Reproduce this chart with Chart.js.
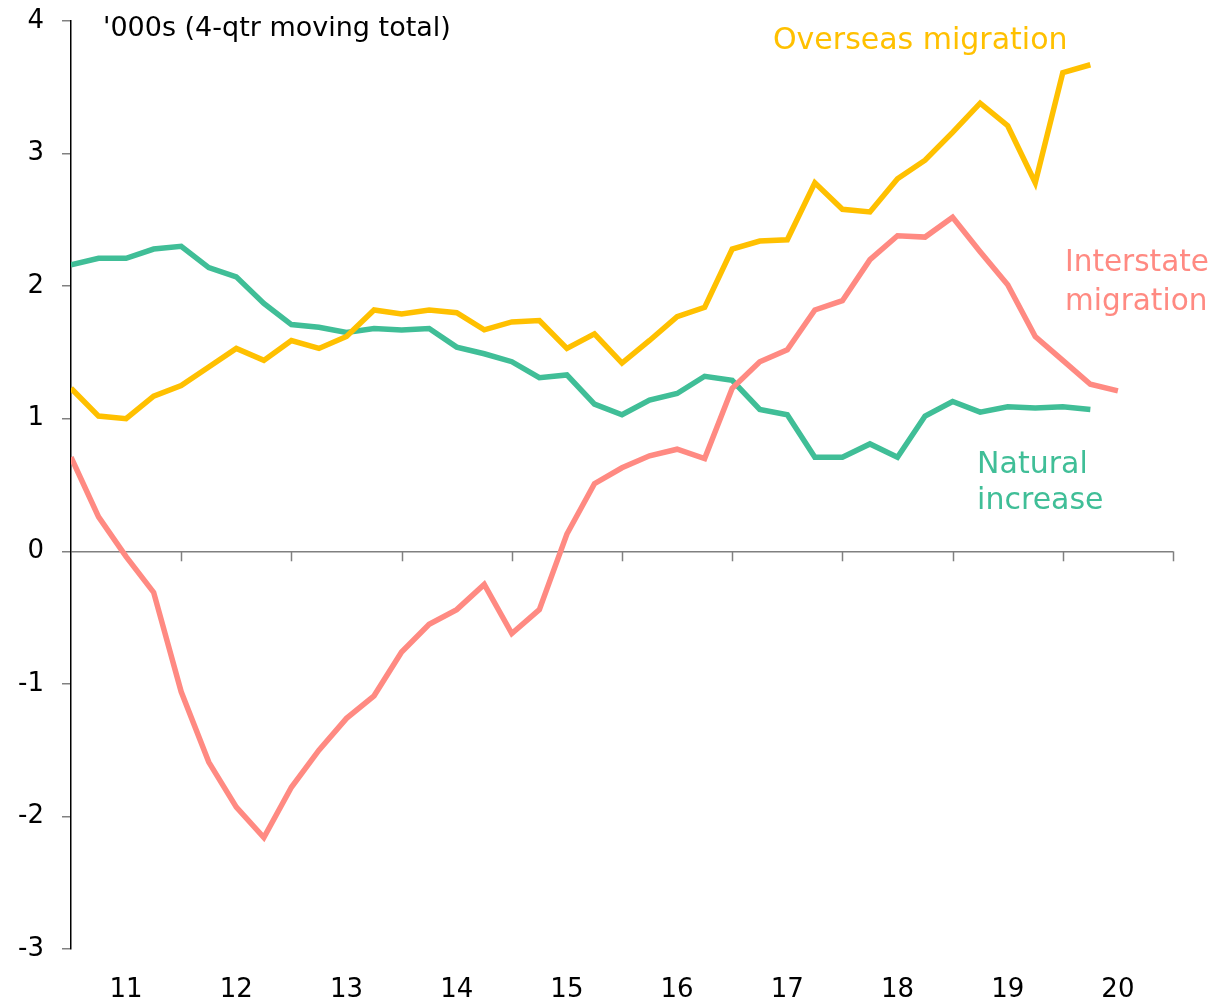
<!DOCTYPE html>
<html>
<head>
<meta charset="utf-8">
<script src="https://cdn.jsdelivr.net/npm/chart.js@4.4.1/dist/chart.umd.min.js"></script>
<style>
    html, body { margin: 0; padding: 0; background: #fff; }
</style>
</head>
<body>
<canvas id="migration-chart" width="1214" height="1007"></canvas>
<script>
// year labels sit in the middle of each 4-quarter block
const yearLabels = ['11', '12', '13', '14', '15', '16', '17', '18', '19', '20'];
const yTicks = [-3, -2, -1, 0, 1, 2, 3, 4];

// '000s, 4-qtr moving total, one value per quarter
const overseas = [1.23, 1.02, 1.00, 1.17, 1.25, 1.39, 1.53, 1.44, 1.59, 1.53,
    1.62, 1.82, 1.79, 1.82, 1.80, 1.67, 1.73, 1.74, 1.53, 1.64,
    1.42, 1.59, 1.77, 1.84, 2.28, 2.34, 2.35, 2.78, 2.58, 2.56,
    2.81, 2.95, 3.16, 3.38, 3.21, 2.78, 3.61, 3.67];
const interstate = [0.71, 0.26, -0.04, -0.31, -1.06, -1.59, -1.93, -2.16, -1.78, -1.50,
    -1.26, -1.09, -0.76, -0.55, -0.44, -0.25, -0.62, -0.44, 0.13, 0.51,
    0.63, 0.72, 0.77, 0.70, 1.23, 1.43, 1.52, 1.82, 1.89, 2.20,
    2.38, 2.37, 2.52, 2.26, 2.01, 1.62, 1.44, 1.26, 1.21];
const natural = [2.16, 2.21, 2.21, 2.28, 2.30, 2.14, 2.07, 1.87, 1.71, 1.69,
    1.65, 1.68, 1.67, 1.68, 1.54, 1.49, 1.43, 1.31, 1.33, 1.11,
    1.03, 1.14, 1.19, 1.32, 1.29, 1.07, 1.03, 0.71, 0.71, 0.81,
    0.71, 1.02, 1.13, 1.05, 1.09, 1.08, 1.09, 1.07];

const colors = {
    overseas: '#FFC000',
    interstate: '#FF8A82',
    natural: '#40BE97',
    axis: '#000000',
    zero: '#808080'
};
const fontFamily = '"DejaVu Sans", sans-serif';

function toPoints(values) {
    return values.map(function (v, i) { return { x: i, y: v }; });
}

// tick marks hanging off the zero line at each year boundary
const zeroTicks = {
    id: 'zeroTicks',
    afterDatasetsDraw(chart) {
        let ctx = chart.ctx;
        let x = chart.scales.x;
        let y0 = chart.scales.y.getPixelForValue(0);
        ctx.save();
        ctx.strokeStyle = colors.zero;
        ctx.lineWidth = 1.5;
        for (let q = 4; q <= x.max; q += 4) {
            let px = Math.round(x.getPixelForValue(q)) + 0.5;
            ctx.beginPath();
            ctx.moveTo(px, y0);
            ctx.lineTo(px, y0 + 10);
            ctx.stroke();
        }
        ctx.restore();
    }
};

// text labels, placed in data units
const notes = [
    { text: "'000s (4-qtr moving total)", x: 1.16, y: 3.94, color: '#000', size: 27 },
    { text: 'Overseas migration', x: 25.48, y: 3.85, color: colors.overseas, size: 30 },
    { text: 'Interstate', x: 36.08, y: 2.17, color: colors.interstate, size: 29.5 },
    { text: 'migration', x: 36.08, y: 1.88, color: colors.interstate, size: 29.5 },
    { text: 'Natural', x: 32.89, y: 0.65, color: colors.natural, size: 30 },
    { text: 'increase', x: 32.89, y: 0.375, color: colors.natural, size: 30 }
];

const noteLabels = {
    id: 'noteLabels',
    afterDraw(chart) {
        let ctx = chart.ctx;
        ctx.save();
        ctx.textAlign = 'left';
        ctx.textBaseline = 'middle';
        notes.forEach(function (n) {
            ctx.font = n.size + 'px ' + fontFamily;
            ctx.fillStyle = n.color;
            ctx.fillText(n.text, chart.scales.x.getPixelForValue(n.x), chart.scales.y.getPixelForValue(n.y));
        });
        ctx.restore();
    }
};

function lineSet(label, values, color) {
    return {
        label: label,
        data: toPoints(values),
        borderColor: color,
        backgroundColor: color,
        borderWidth: 5.5,
        pointRadius: 0,
        tension: 0,
        fill: false
    };
}

let ctx1 = document.getElementById('migration-chart').getContext('2d');
let chart = new Chart(ctx1, {
    type: 'line',
    data: {
        datasets: [
            lineSet('Overseas migration', overseas, colors.overseas),
            lineSet('Interstate migration', interstate, colors.interstate),
            lineSet('Natural increase', natural, colors.natural)
        ]
    },
    options: {
        responsive: false,
        animation: false,
        layout: { padding: { top: 21, right: 41, left: 0, bottom: 0 } },
        plugins: {
            legend: { display: false },
            tooltip: { enabled: false }
        },
        scales: {
            x: {
                type: 'linear',
                min: 0,
                max: 40,
                afterFit: function (scale) { scale.height = 58; },
                border: { display: false },
                grid: { display: false },
                ticks: {
                    stepSize: 2,
                    autoSkip: false,
                    maxRotation: 0,
                    padding: 18,
                    color: '#000',
                    font: { family: fontFamily, size: 26 },
                    callback: function (v) {
                        return v % 4 === 2 ? yearLabels[(v - 2) / 4] : '';
                    }
                }
            },
            y: {
                min: yTicks[0],
                max: yTicks[yTicks.length - 1],
                afterFit: function (scale) {
                    scale.width = 71;
                    scale.paddingTop = 0;
                    scale.paddingBottom = 0;
                },
                afterBuildTicks: function (scale) {
                    scale.ticks = yTicks.map(function (v) { return { value: v }; });
                },
                border: { display: true, color: colors.axis, width: 1.5 },
                grid: {
                    drawOnChartArea: true,
                    tickLength: 9,
                    lineWidth: 1.5,
                    color: function (c) { return c.tick && c.tick.value === 0 ? colors.zero : 'rgba(0,0,0,0)'; },
                    tickColor: colors.zero
                },
                ticks: {
                    padding: 18,
                    color: '#000',
                    font: { family: fontFamily, size: 26 }
                }
            }
        }
    },
    plugins: [zeroTicks, noteLabels]
});
</script>
</body>
</html>
